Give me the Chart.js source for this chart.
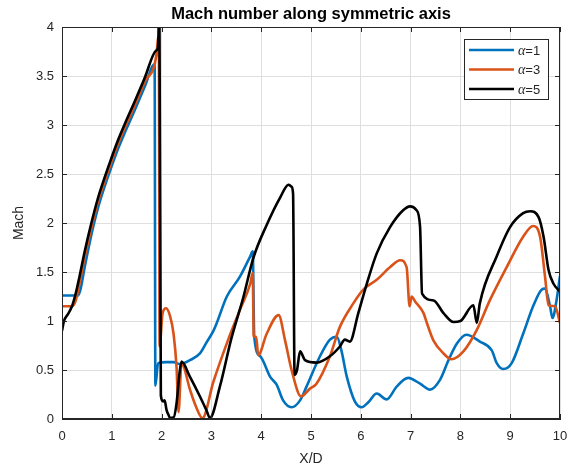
<!DOCTYPE html>
<html>
<head>
<meta charset="utf-8">
<title>Mach number along symmetric axis</title>
<script src="https://cdn.jsdelivr.net/npm/chart.js@4/dist/chart.umd.min.js"></script>
<style>
  body { margin: 0; background: #fff; }
  #wrap { width: 570px; height: 470px; }
</style>
</head>
<body>
<div id="wrap"><canvas id="machChart" width="570" height="470"></canvas></div>
<script>
// Mach number along the axis, one series per alpha
const alphaLabels = ['α=1', 'α=3', 'α=5'];
const lineColors = ['#0072BD', '#D95319', '#000000'];

const alpha1X = [0, 0.32, 0.37, 0.46, 0.59, 0.72, 0.86, 0.99, 1.12, 1.26, 1.46, 1.66, 1.86, 1.875, 1.93, 2.1, 2.24, 2.37, 2.57, 2.77, 2.9, 3.04, 3.1, 3.31, 3.57, 3.78, 3.83, 3.86, 3.98, 4.18, 4.31, 4.44, 4.61, 4.78, 4.91, 5.18, 5.38, 5.52, 5.61, 5.72, 5.88, 6.02, 6.15, 6.32, 6.52, 6.72, 6.95, 7.19, 7.39, 7.59, 7.76, 7.93, 8.12, 8.39, 8.63, 8.73, 8.86, 9.03, 9.26, 9.46, 9.63, 9.7, 9.8, 9.85, 9.93, 10];
const alpha1Y = [1.26, 1.26, 1.32, 1.56, 1.88, 2.15, 2.38, 2.57, 2.75, 2.92, 3.15, 3.39, 3.62, 0.34, 0.57, 0.58, 0.58, 0.56, 0.6, 0.67, 0.78, 0.9, 0.97, 1.25, 1.45, 1.66, 1.71, 0.84, 0.64, 0.43, 0.35, 0.19, 0.12, 0.19, 0.33, 0.64, 0.81, 0.84, 0.7, 0.43, 0.18, 0.12, 0.17, 0.26, 0.2, 0.33, 0.42, 0.36, 0.3, 0.4, 0.6, 0.77, 0.86, 0.79, 0.7, 0.57, 0.51, 0.57, 0.87, 1.15, 1.32, 1.33, 1.15, 1.03, 1.21, 1.46];

const alpha3X = [0, 0.2, 0.27, 0.35, 0.46, 0.59, 0.72, 0.86, 0.99, 1.12, 1.26, 1.46, 1.66, 1.9, 1.93, 1.945, 1.96, 2.02, 2.09, 2.17, 2.24, 2.3, 2.34, 2.4, 2.57, 2.68, 2.82, 3.04, 3.33, 3.57, 3.78, 3.83, 3.85, 3.9, 3.94, 4.11, 4.35, 4.48, 4.62, 4.8, 4.98, 5.11, 5.38, 5.58, 5.85, 6.05, 6.32, 6.59, 6.79, 6.92, 6.98, 7.02, 7.09, 7.26, 7.32, 7.46, 7.66, 7.82, 8.06, 8.33, 8.59, 8.93, 9.26, 9.46, 9.6, 9.7, 9.77, 9.9, 10];
const alpha3Y = [1.15, 1.15, 1.2, 1.38, 1.66, 1.95, 2.21, 2.43, 2.62, 2.8, 2.97, 3.2, 3.44, 3.73, 3.9, 3.88, 0.74, 1.08, 1.13, 1.05, 0.87, 0.53, 0.07, 0.57, 0.3, 0.14, 0.01, 0.38, 0.8, 1.11, 1.38, 1.49, 0.84, 0.84, 0.65, 0.87, 1.06, 0.8, 0.48, 0.23, 0.31, 0.36, 0.64, 0.94, 1.18, 1.32, 1.42, 1.55, 1.62, 1.55, 1.15, 1.25, 1.2, 1.08, 0.99, 0.8, 0.67, 0.61, 0.69, 0.91, 1.21, 1.55, 1.86, 1.97, 1.86, 1.45, 1.16, 1.15, 0.98];

const alpha5X = [0, 0.04, 0.12, 0.2, 0.27, 0.35, 0.46, 0.59, 0.72, 0.86, 0.99, 1.12, 1.26, 1.46, 1.66, 1.89, 1.93, 1.955, 1.985, 2.03, 2.06, 2.1, 2.14, 2.17, 2.24, 2.3, 2.36, 2.4, 2.57, 2.77, 2.9, 2.97, 3.17, 3.4, 3.64, 3.84, 4.11, 4.38, 4.55, 4.61, 4.64, 4.67, 4.72, 4.78, 4.88, 5.11, 5.38, 5.58, 5.68, 5.78, 5.95, 6.12, 6.32, 6.59, 6.85, 6.99, 7.12, 7.19, 7.23, 7.46, 7.66, 7.86, 8.0, 8.26, 8.33, 8.39, 8.73, 9.0, 9.26, 9.4, 9.57, 9.67, 9.77, 9.87, 10];
const alpha5Y = [0.9, 1.0, 1.07, 1.15, 1.27, 1.45, 1.72, 2.0, 2.25, 2.47, 2.66, 2.84, 3.01, 3.24, 3.48, 3.76, 3.8, 4.3, 0.24, 0.18, 0.19, 0.09, 0.04, 0.01, 0.015, 0.16, 0.47, 0.585, 0.43, 0.23, 0.09, 0.01, 0.33, 0.82, 1.24, 1.64, 1.98, 2.26, 2.39, 2.37, 2.3, 0.45, 0.5, 0.69, 0.6, 0.575, 0.64, 0.74, 0.81, 0.79, 1.08, 1.38, 1.69, 1.96, 2.13, 2.17, 2.13, 1.96, 1.28, 1.21, 1.08, 0.99, 1.0, 1.16, 0.98, 1.18, 1.66, 1.96, 2.1, 2.12, 2.06, 1.86, 1.52, 1.38, 1.3];

const seriesX = [alpha1X, alpha3X, alpha5X];
const seriesY = [alpha1Y, alpha3Y, alpha5Y];

const FONT = "'Liberation Sans', Arial, Helvetica, sans-serif";
const AXIS_COLOR = '#262626';

function toPoints(xs, ys) {
  return xs.map((x, i) => ({ x: x, y: ys[i] }));
}

// title, closed box with inward ticks, and the legend
const matlabFrame = {
  id: 'matlabFrame',
  afterDraw(chart) {
    const ctx = chart.ctx;
    const area = chart.chartArea;
    const xs = chart.scales.x;
    const ys = chart.scales.y;

    ctx.save();
    ctx.fillStyle = '#000';
    ctx.font = 'bold 16.5px ' + FONT;
    ctx.textAlign = 'center';
    ctx.textBaseline = 'alphabetic';
    ctx.fillText('Mach number along symmetric axis', (area.left + area.right) / 2, 19);

    ctx.strokeStyle = AXIS_COLOR;
    ctx.lineWidth = 1;
    ctx.strokeRect(Math.round(area.left) + 0.5, Math.round(area.top) + 0.5,
      Math.round(area.right - area.left) - 1, Math.round(area.bottom - area.top) - 1);

    const tl = 5;
    ctx.beginPath();
    xs.ticks.forEach(t => {
      const px = Math.round(xs.getPixelForValue(t.value)) + 0.5;
      ctx.moveTo(px, area.bottom); ctx.lineTo(px, area.bottom - tl);
      ctx.moveTo(px, area.top); ctx.lineTo(px, area.top + tl);
    });
    ys.ticks.forEach(t => {
      const py = Math.round(ys.getPixelForValue(t.value)) + 0.5;
      ctx.moveTo(area.left, py); ctx.lineTo(area.left + tl, py);
      ctx.moveTo(area.right, py); ctx.lineTo(area.right - tl, py);
    });
    ctx.stroke();

    // legend box
    const bx = 464.5, by = 39.5, bw = 84, bh = 60;
    ctx.fillStyle = '#fff';
    ctx.fillRect(bx, by, bw, bh);
    ctx.strokeStyle = AXIS_COLOR;
    ctx.strokeRect(bx, by, bw, bh);
    chart.data.datasets.forEach((ds, i) => {
      const ry = 50 + i * 19.5;
      ctx.strokeStyle = ds.borderColor;
      ctx.lineWidth = 2.6;
      ctx.beginPath();
      ctx.moveTo(469, ry);
      ctx.lineTo(514, ry);
      ctx.stroke();
      ctx.fillStyle = AXIS_COLOR;
      ctx.textAlign = 'left';
      ctx.textBaseline = 'middle';
      ctx.font = "italic 14px 'Liberation Serif', 'DejaVu Serif', serif";
      const greek = ds.label.charAt(0);
      ctx.fillText(greek, 518, ry + 1);
      const gw = ctx.measureText(greek).width;
      ctx.font = '13px ' + FONT;
      ctx.fillText(ds.label.slice(1), 518 + gw, ry + 1);
    });
    ctx.restore();
  }
};

const datasets = alphaLabels.map((label, i) => ({
  label: label,
  data: toPoints(seriesX[i], seriesY[i]),
  borderColor: lineColors[i],
  backgroundColor: lineColors[i],
  borderWidth: 2.6,
  pointRadius: 0,
  fill: false,
  cubicInterpolationMode: 'monotone',
  order: alphaLabels.length - i
}));

new Chart(document.getElementById('machChart'), {
  type: 'line',
  data: { datasets: datasets },
  options: {
    responsive: false,
    animation: false,
    layout: { padding: { top: 27, right: 10, left: 0, bottom: 0 } },
    plugins: {
      legend: { display: false },
      title: { display: false },
      tooltip: { enabled: false }
    },
    scales: {
      x: {
        type: 'linear',
        min: 0,
        max: 10,
        ticks: { stepSize: 1, color: AXIS_COLOR, padding: 10, font: { family: FONT, size: 13 } },
        grid: { color: '#dfdfdf', drawTicks: false },
        border: { color: AXIS_COLOR },
        title: { display: true, text: 'X/D', color: AXIS_COLOR, font: { family: FONT, size: 14 }, padding: { top: 0, bottom: 2 } },
        afterFit(scale) {
          scale.height = 51;
          scale.paddingLeft = 0;
          scale.paddingRight = 0;
        }
      },
      y: {
        min: 0,
        max: 4,
        ticks: {
          stepSize: 0.5,
          color: AXIS_COLOR,
          padding: 8,
          font: { family: FONT, size: 13 },
          callback: value => String(value)
        },
        grid: { color: '#dfdfdf', drawTicks: false },
        border: { color: AXIS_COLOR },
        title: { display: true, text: 'Mach', color: AXIS_COLOR, font: { family: FONT, size: 14 }, padding: { top: 11, bottom: 0 } },
        afterFit(scale) {
          scale.width = 62;
          scale.paddingTop = 0;
          scale.paddingBottom = 0;
        }
      }
    }
  },
  plugins: [matlabFrame]
});
</script>
</body>
</html>
